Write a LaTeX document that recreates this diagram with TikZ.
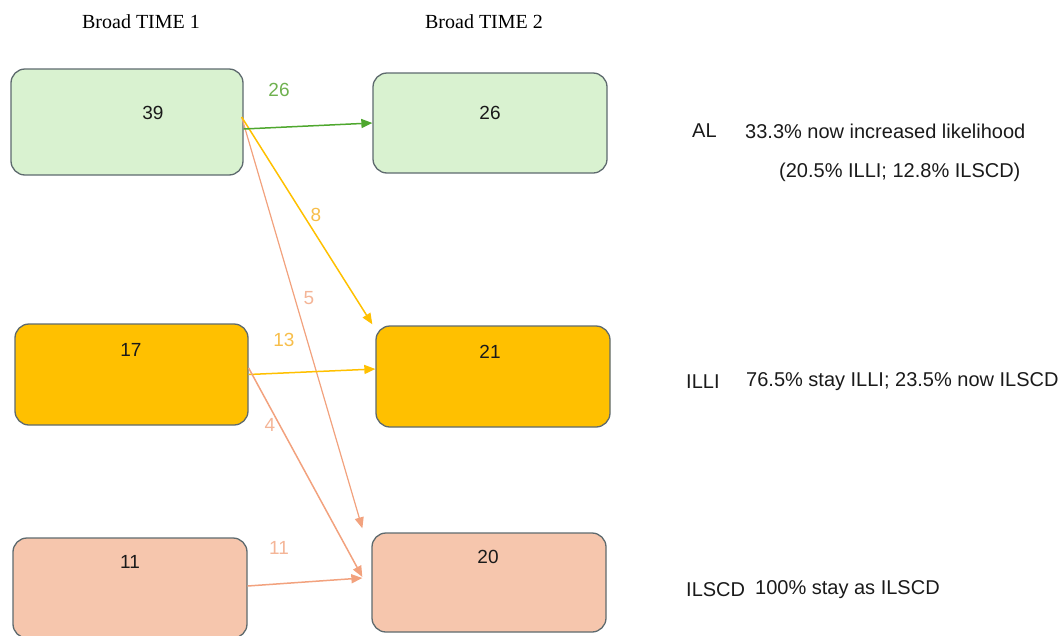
\documentclass[tikz,border=0pt]{standalone}
\usepackage{fontspec}
\setmainfont{Liberation Serif}
\newfontfamily\sansf{Liberation Sans}
\usetikzlibrary{arrows.meta}
\definecolor{boxborder}{HTML}{5E6A6E}
\definecolor{alfill}{HTML}{D9F2D0}
\definecolor{illifill}{HTML}{FFC000}
\definecolor{ilsfill}{HTML}{F6C6AD}
\definecolor{garrow}{HTML}{4EA72E}
\definecolor{glabel}{HTML}{6FB14F}
\definecolor{yarrow}{HTML}{FFC000}
\definecolor{ylabel}{HTML}{F7BE4A}
\definecolor{sarrow}{HTML}{F2A27E}
\definecolor{slabel}{HTML}{F4B597}
\definecolor{txt}{HTML}{1A1A1A}
\tikzset{
  statebox/.style={draw=boxborder, line width=1.3pt, rounded corners=14pt, inner sep=0pt},
  numtext/.style={font=\sansf\fontsize{19}{21}\selectfont, text=txt, inner sep=0pt},
  flowlabel/.style={font=\sansf\fontsize{19}{21}\selectfont, inner sep=0pt},
  header/.style={font=\fontsize{20}{22}\selectfont, text=black, inner sep=0pt},
  sidetext/.style={font=\sansf\fontsize{20}{22}\selectfont, text=txt, inner sep=0pt, anchor=west},
  flow/.style={line width=1.5pt, -{Triangle[length=11pt,width=9pt]}},
}
\begin{document}
\begin{tikzpicture}[x=1pt,y=-1pt]
\useasboundingbox (0,0) rectangle (1058,635);
% headers
\node[header] (h1) at (141,22) {Broad TIME 1};
\node[header] (h2) at (484,22) {Broad TIME 2};
% boxes
\node[statebox, fill=alfill, minimum width=232pt, minimum height=106pt] (A1) at (127,122) {};
\node[statebox, fill=alfill, minimum width=234pt, minimum height=100pt] (A2) at (490,123) {};
\node[statebox, fill=illifill, minimum width=233pt, minimum height=101pt] (I1) at (131.5,374.5) {};
\node[statebox, fill=illifill, minimum width=234pt, minimum height=101pt] (I2) at (493,376.5) {};
\node[statebox, fill=ilsfill, minimum width=234pt, minimum height=100pt] (S1) at (130,588) {};
\node[statebox, fill=ilsfill, minimum width=234pt, minimum height=99pt] (S2) at (489,582.5) {};
% numbers
\node[numtext] (tA1) at (153,113) {39};
\node[numtext] (tA2) at (490,113) {26};
\node[numtext] (tI1) at (131,350) {17};
\node[numtext] (tI2) at (490,352) {21};
\node[numtext] (tS1) at (130,562) {11};
\node[numtext] (tS2) at (488,557) {20};
% flows
\draw[flow, draw=sarrow, fill=sarrow, line width=1.2pt] ([shift={(-2pt,5pt)}]A1.east) -- ([shift={(-9pt,4pt)}]S2.north west);
\draw[flow, draw=yarrow, fill=yarrow] ([shift={(-2pt,5pt)}]A1.east) -- ([shift={(-3pt,1pt)}]I2.north west);
\draw[flow, draw=garrow, fill=garrow] ([yshift=-7pt]A1.east) -- (A2.west);
\draw[flow, draw=yarrow, fill=yarrow] (I1.east) -- ([yshift=7.5pt]I2.west);
\draw[flow, draw=sarrow, fill=sarrow] ([yshift=6.5pt]I1.east) -- ([shift={(-9pt,5.5pt)}]S2.west);
\draw[flow, draw=sarrow, fill=sarrow] ([yshift=2pt]S1.east) -- ([shift={(-9pt,4.5pt)}]S2.west);
% flow labels
\node[flowlabel, text=glabel] (l26) at (279,90) {26};
\node[flowlabel, text=ylabel] (l8) at (316,215) {8};
\node[flowlabel, text=slabel] (l5) at (309,298) {5};
\node[flowlabel, text=ylabel] (l13) at (284,340) {13};
\node[flowlabel, text=slabel] (l4) at (270,425) {4};
\node[flowlabel, text=slabel] (l11) at (279,548) {11};
% side texts
\node[sidetext] (al) at (692,131) {AL};
\node[sidetext] (al2) at (745,131) {33.3\% now increased likelihood};
\node[sidetext] (al3) at (779,172) {(20.5\% ILLI; 12.8\% ILSCD)};
\node[sidetext] (il) at (686,382) {ILLI};
\node[sidetext] (il2) at (746,382) {76.5\% stay ILLI; 23.5\% now ILSCD};
\node[sidetext] (is) at (686,590) {ILSCD};
\node[sidetext] (is2) at (755,590) {100\% stay as ILSCD};
\end{tikzpicture}
\end{document}
